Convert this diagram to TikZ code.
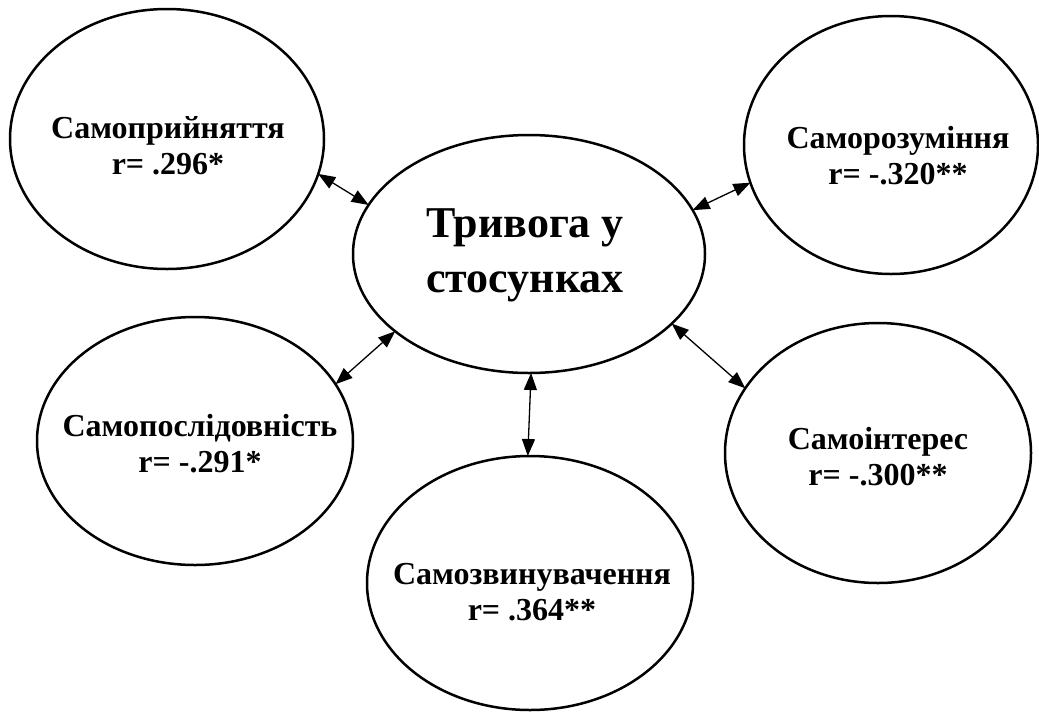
\documentclass[tikz,border=0pt]{standalone}
\usepackage{fontspec}
\setmainfont{Liberation Serif}
\usetikzlibrary{shapes.geometric,arrows.meta}
\tikzset{
  oval/.style={draw=black, line width=2.5pt, ellipse, inner sep=0pt, outer sep=0pt},
  lbl/.style={align=center, inner sep=0pt, font=\bfseries\fontsize{32}{36}\selectfont},
  biglbl/.style={align=center, inner sep=0pt, font=\bfseries\fontsize{44}{55}\selectfont},
  link/.style={line width=1.3pt, {Triangle[length=17pt,width=13pt]}-{Triangle[length=17pt,width=13pt]}}
}
\begin{document}
\begin{tikzpicture}[x=1pt,y=-1pt]
\useasboundingbox (0,0) rectangle (1039,713);
% ellipses
\node[oval, minimum width=352pt, minimum height=238pt] (C) at (529,254) {};
\node[oval, minimum width=314pt, minimum height=260pt] (E1) at (167,139) {};
\node[oval, minimum width=294pt, minimum height=258pt] (E2) at (891,145) {};
\node[oval, minimum width=316pt, minimum height=248pt] (E4) at (195,441) {};
\node[oval, minimum width=326pt, minimum height=254pt] (E5) at (530,583) {};
\node[oval, minimum width=306pt, minimum height=260pt] (E6) at (878,453) {};
% texts
\node[biglbl] (TC) at (525,255) {Тривога у\\стосунках};
\node[lbl] (T1) at (168,146) {Самоприйняття\\r= .296*};
\node[lbl] (T2) at (898,156) {Саморозуміння\\r= -.320**};
\node[lbl] (T4) at (200,444) {Самопослідовність\\r= -.291*};
\node[lbl] (T5) at (532,592) {Самозвинувачення\\r= .364**};
\node[lbl] (T6) at (878,457) {Самоінтерес\\r= -.300**};
% connectors
\draw[link] (E1.-13.9) -- (C.163.5);
\draw[link] (C.15.7) -- (E2.-165.1);
\draw[link] (E4.22.4) -- (C.210.9);
\draw[link] (C.-26.7) -- (E6.154.4);
\draw[link] (C.-89) -- (E5.91);
\end{tikzpicture}
\end{document}
